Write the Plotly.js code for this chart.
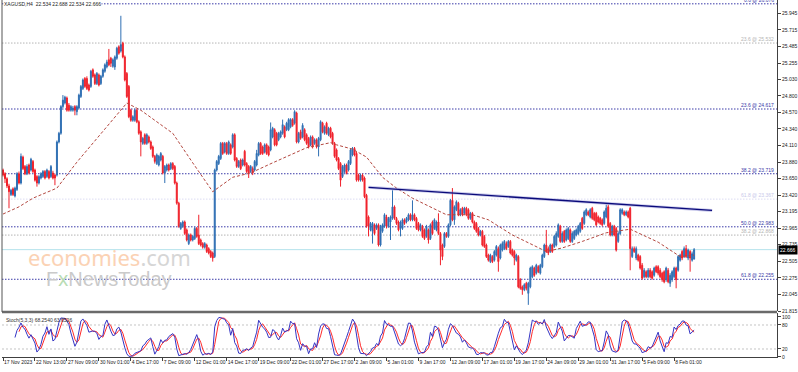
<!DOCTYPE html>
<html><head><meta charset="utf-8">
<script src="https://cdn.plot.ly/plotly-3.0.1.min.js"></script>
<style>html,body{margin:0;padding:0;background:#fff;}#chart{width:798px;height:372px;}</style>
</head><body><div id="chart"></div>
<script>
const symbolTitle = 'XAGUSD,H4  22.534 22.688 22.534 22.666';
const stochTitle = 'Stoch(5,3,3) 68.2540 63.6526';

const barOpen = [
23.77,23.72,23.65,23.55,23.43,23.51,23.41,23.50,23.72,23.59,
23.95,23.82,23.72,23.84,23.77,23.89,23.77,23.68,23.59,23.66,
23.68,23.75,23.68,23.75,23.68,23.73,23.70,23.70,24.16,24.28,
24.65,24.70,24.77,24.67,24.60,24.60,24.65,24.58,24.63,24.79,
24.90,25.04,25.04,24.95,24.93,25.16,25.09,24.97,25.09,24.97,
25.07,25.14,25.20,25.30,25.32,25.21,25.20,25.32,25.48,25.42,
25.53,25.34,25.11,24.93,24.60,24.46,24.46,24.60,24.44,24.30,
24.14,24.26,24.14,24.23,24.16,24.09,23.96,23.86,23.84,23.91,
23.96,23.73,23.77,23.84,23.79,23.86,23.82,23.59,23.31,22.96,
22.99,23.05,22.94,22.75,22.87,22.80,22.82,22.96,22.87,22.80,
22.75,22.70,22.73,22.68,22.64,22.62,22.57,23.77,23.86,23.93,
24.14,24.02,24.14,24.00,24.12,24.09,24.26,23.93,23.82,23.91,
23.84,24.03,23.86,23.82,23.75,23.79,23.77,23.84,23.98,24.14,
24.09,24.02,24.12,24.09,24.05,24.23,24.33,24.28,24.19,24.23,
24.28,24.37,24.33,24.33,24.37,24.47,24.42,24.56,24.16,24.30,
24.23,24.33,24.26,24.21,24.12,24.23,24.14,24.19,24.09,24.19,
24.42,24.28,24.42,24.26,24.35,24.28,24.14,24.05,23.93,23.86,
23.68,23.75,23.84,23.77,23.86,23.98,24.07,24.00,23.70,23.63,
23.70,23.66,23.42,23.12,22.94,22.92,23.01,22.96,23.01,22.73,
22.92,22.99,23.12,22.99,23.05,23.10,23.26,23.10,23.05,22.96,
22.96,23.08,23.05,23.08,23.15,23.08,23.15,23.10,23.03,22.94,
22.99,22.94,22.85,22.94,22.82,23.05,22.96,22.94,23.05,22.89,
22.73,22.71,22.89,22.85,23.01,23.35,23.08,23.22,23.31,23.15,
23.24,23.17,23.24,23.22,23.10,23.17,23.05,23.03,22.96,22.87,
22.92,22.85,22.73,22.59,22.50,22.57,22.52,22.59,22.68,22.55,
22.66,22.68,22.75,22.71,22.78,22.66,22.64,22.52,22.57,22.25,
22.15,22.11,22.20,22.06,22.15,22.29,22.41,22.34,22.43,22.34,
22.43,22.57,22.73,22.68,22.64,22.73,22.71,22.73,22.85,22.99,
22.78,22.92,22.80,22.82,22.94,22.78,22.82,22.87,22.89,22.92,
23.10,23.03,23.15,23.19,23.12,23.24,23.17,23.17,23.12,23.10,
23.08,23.03,23.12,23.26,23.03,22.87,22.99,22.96,22.78,22.89,
23.17,23.19,23.15,23.19,23.24,22.57,22.68,22.55,22.59,22.57,
22.45,22.29,22.36,22.29,22.38,22.36,22.31,22.43,22.43,22.38,
22.34,22.36,22.25,22.38,22.20,22.25,22.29,22.41,22.38,22.52,
22.64,22.57,22.68,22.55,22.64,22.52,22.534];

const barHigh = [
23.79,23.74,23.67,23.58,23.51,23.53,23.54,23.74,23.75,24.00,
23.97,23.84,23.85,23.86,23.94,23.91,23.79,23.70,23.70,23.74,
23.77,23.77,23.79,23.77,23.84,23.76,23.72,24.18,24.30,24.67,
24.81,24.80,24.79,24.70,24.67,24.66,24.67,24.67,24.83,24.95,
25.04,25.06,25.07,24.97,25.16,25.18,25.11,25.13,25.11,25.09,
25.18,25.25,25.30,25.45,25.34,25.32,25.36,25.48,25.50,25.91,
25.55,25.36,25.13,24.95,24.62,24.53,24.62,24.62,24.46,24.32,
24.23,24.28,24.28,24.25,24.18,24.11,23.98,24.00,23.98,24.02,
23.98,23.84,23.86,23.86,23.88,23.88,23.84,23.61,23.33,23.05,
23.07,23.07,22.96,22.89,22.89,22.87,22.98,22.98,23.15,22.82,
22.77,22.77,22.75,22.70,22.66,22.64,23.79,23.91,23.98,24.16,
24.16,24.16,24.16,24.18,24.14,24.28,24.28,23.95,23.91,23.93,
23.93,24.05,23.88,23.84,23.84,23.82,23.91,24.05,24.16,24.16,
24.11,24.14,24.14,24.11,24.43,24.37,24.35,24.30,24.30,24.32,
24.47,24.39,24.44,24.49,24.49,24.49,24.60,24.58,24.30,24.33,
24.42,24.35,24.28,24.23,24.25,24.25,24.21,24.21,24.23,24.46,
24.44,24.39,24.44,24.37,24.37,24.30,24.16,24.07,23.95,23.88,
23.84,23.86,23.86,23.91,24.07,24.09,24.09,24.02,23.72,23.72,
23.72,23.68,23.44,23.14,23.05,23.05,23.03,23.03,23.03,23.01,
23.03,23.17,23.15,23.12,23.14,23.49,23.28,23.12,23.07,23.07,
23.10,23.10,23.12,23.17,23.17,23.35,23.17,23.12,23.05,23.03,
23.01,22.96,23.01,22.96,23.03,23.07,23.10,23.07,23.17,22.91,
22.75,22.91,22.91,23.03,23.37,23.52,23.28,23.35,23.33,23.24,
23.26,23.26,23.26,23.24,23.19,23.19,23.07,23.05,22.98,22.94,
22.94,22.87,22.75,22.61,22.61,22.59,22.66,22.73,22.71,22.75,
22.78,22.80,22.78,22.80,22.80,22.68,22.66,22.61,22.59,22.27,
22.17,22.20,22.22,22.22,22.43,22.45,22.43,22.47,22.45,22.47,
22.61,22.75,22.94,22.71,22.75,22.75,22.87,22.92,23.03,23.01,
22.92,22.94,22.96,22.98,22.96,22.92,22.94,22.96,23.01,23.05,
23.12,23.21,23.24,23.21,23.24,23.26,23.19,23.19,23.14,23.12,
23.10,23.21,23.29,23.29,23.05,23.01,23.01,22.98,22.92,23.24,
23.24,23.21,23.21,23.21,23.26,22.71,22.71,22.71,22.61,22.59,
22.48,22.41,22.38,22.41,22.41,22.38,22.43,22.45,22.45,22.41,
22.36,22.38,22.43,22.41,22.34,22.38,22.43,22.43,22.59,22.61,
22.66,22.71,22.73,22.68,22.66,22.64,22.688];

const barLow = [
23.68,23.59,23.52,23.24,23.41,23.41,23.39,23.48,23.57,23.57,
23.77,23.70,23.70,23.71,23.75,23.73,23.61,23.54,23.57,23.64,
23.66,23.64,23.66,23.64,23.66,23.64,23.56,23.68,24.14,24.26,
24.63,24.68,24.58,24.58,24.58,24.58,24.53,24.53,24.61,24.77,
24.88,24.91,24.88,24.86,24.91,25.05,24.95,24.95,24.93,24.95,
25.05,25.12,25.18,25.21,25.20,25.19,25.16,25.30,25.37,25.40,
25.32,25.00,24.77,24.49,24.44,24.44,24.44,24.42,24.26,23.96,
24.12,24.12,24.12,24.14,24.05,23.94,23.86,23.84,23.82,23.89,
23.71,23.59,23.75,23.75,23.77,23.77,23.57,23.29,22.97,22.94,
22.97,22.87,22.78,22.73,22.78,22.78,22.80,22.83,22.73,22.71,
22.68,22.68,22.62,22.60,22.55,22.50,22.55,23.75,23.84,23.91,
23.98,24.00,23.98,23.98,23.98,24.07,23.89,23.80,23.80,23.77,
23.82,23.82,23.73,23.66,23.73,23.70,23.75,23.82,23.96,23.98,
23.98,24.00,23.98,23.96,24.03,24.21,24.10,24.10,24.17,24.21,
24.26,24.21,24.31,24.31,24.35,24.37,24.40,24.14,24.14,24.19,
24.21,24.17,24.12,24.07,24.10,24.07,24.12,24.07,23.96,24.17,
24.28,24.26,24.26,24.24,24.21,24.12,23.94,23.89,23.77,23.54,
23.66,23.73,23.71,23.75,23.84,23.96,23.96,23.61,23.61,23.61,
23.61,23.38,22.97,22.85,22.92,22.75,22.87,22.94,22.71,22.71,
22.90,22.97,22.96,22.97,22.80,23.08,23.08,23.01,22.92,22.85,
22.94,23.01,23.03,23.06,23.06,23.06,23.06,22.94,22.92,22.92,
22.83,22.80,22.83,22.75,22.80,22.87,22.94,22.92,22.87,22.45,
22.52,22.69,22.83,22.83,22.99,23.06,23.01,23.20,23.13,23.13,
23.13,23.15,23.13,23.08,23.08,23.03,22.94,22.90,22.85,22.85,
22.71,22.69,22.55,22.50,22.48,22.48,22.50,22.57,22.36,22.53,
22.64,22.66,22.66,22.69,22.60,22.57,22.45,22.50,22.13,22.11,
22.04,22.09,22.10,21.90,22.13,22.27,22.29,22.32,22.34,22.32,
22.41,22.55,22.62,22.59,22.62,22.62,22.69,22.71,22.83,22.76,
22.76,22.76,22.78,22.80,22.76,22.76,22.80,22.85,22.87,22.90,
22.94,23.01,23.13,23.13,23.10,23.08,23.06,22.99,23.03,23.01,
22.99,23.01,23.10,22.97,22.85,22.85,22.85,22.64,22.76,22.87,
23.15,23.13,23.13,23.10,22.38,22.55,22.62,22.52,22.50,22.39,
22.25,22.27,22.27,22.27,22.27,22.25,22.29,22.34,22.31,22.27,
22.22,22.20,22.22,22.20,22.15,22.22,22.27,22.13,22.36,22.50,
22.52,22.55,22.55,22.52,22.36,22.50,22.534];

const barClose = [
23.70,23.65,23.55,23.47,23.49,23.43,23.52,23.72,23.59,23.96,
23.79,23.72,23.82,23.73,23.92,23.75,23.63,23.59,23.68,23.72,
23.75,23.66,23.77,23.66,23.82,23.66,23.66,24.16,24.28,24.65,
24.74,24.78,24.60,24.60,24.65,24.63,24.60,24.65,24.81,24.93,
25.02,24.93,24.90,24.88,25.14,25.07,24.97,25.11,24.95,25.07,
25.16,25.23,25.27,25.23,25.25,25.30,25.34,25.46,25.39,25.51,
25.34,25.02,24.79,24.51,24.46,24.51,24.60,24.44,24.28,24.16,
24.21,24.14,24.26,24.16,24.07,23.96,23.89,23.98,23.96,24.00,
23.73,23.82,23.84,23.77,23.86,23.79,23.59,23.31,22.99,23.03,
23.05,22.89,22.80,22.87,22.80,22.85,22.96,22.85,22.75,22.73,
22.70,22.75,22.64,22.62,22.57,22.55,23.77,23.89,23.96,24.14,
24.00,24.14,24.00,24.16,24.00,24.26,23.91,23.82,23.89,23.79,
23.91,23.84,23.75,23.73,23.82,23.73,23.89,24.00,24.14,24.00,
24.00,24.12,24.00,23.98,24.33,24.35,24.12,24.12,24.28,24.30,
24.40,24.23,24.42,24.47,24.47,24.39,24.58,24.16,24.28,24.21,
24.39,24.19,24.14,24.09,24.23,24.09,24.19,24.09,24.21,24.44,
24.30,24.37,24.28,24.35,24.23,24.14,23.96,23.91,23.79,23.63,
23.82,23.84,23.73,23.89,24.05,24.07,23.98,23.63,23.63,23.70,
23.63,23.40,22.99,22.99,23.03,23.03,22.89,23.01,22.73,22.99,
23.01,23.15,22.99,23.10,23.12,23.26,23.10,23.03,22.94,23.05,
23.08,23.03,23.10,23.15,23.08,23.15,23.08,22.96,22.94,23.01,
22.85,22.82,22.99,22.80,23.01,22.89,23.08,23.05,22.89,22.66,
22.57,22.89,22.85,23.01,23.35,23.08,23.26,23.33,23.15,23.22,
23.15,23.24,23.15,23.10,23.17,23.05,22.96,22.92,22.87,22.92,
22.73,22.71,22.57,22.52,22.59,22.50,22.64,22.71,22.50,22.73,
22.75,22.78,22.68,22.78,22.62,22.59,22.55,22.59,22.15,22.13,
22.11,22.18,22.13,22.20,22.41,22.43,22.31,22.45,22.36,22.45,
22.59,22.73,22.64,22.62,22.73,22.64,22.85,22.89,23.01,22.78,
22.89,22.78,22.94,22.96,22.78,22.89,22.92,22.94,22.99,23.03,
22.96,23.19,23.22,23.15,23.22,23.10,23.08,23.01,23.05,23.03,
23.01,23.19,23.24,22.99,22.87,22.99,22.87,22.66,22.89,23.22,
23.22,23.15,23.19,23.12,22.68,22.68,22.64,22.68,22.52,22.41,
22.27,22.38,22.29,22.38,22.29,22.27,22.41,22.36,22.34,22.29,
22.25,22.22,22.41,22.22,22.31,22.36,22.41,22.25,22.57,22.59,
22.55,22.68,22.57,22.66,22.55,22.61,22.666];

// moving average (dashed) read at sample bars
const maIndex = [0,8,15,27,37,49,62,69,82,85,95,105,115,124,135,152,164,167,175,182,190,197,205,222,235,243,255,272,280,290,302,314,328,339,346];
const maValue = [23.16,23.26,23.38,23.52,23.88,24.28,24.70,24.60,24.35,24.28,23.87,23.47,23.67,23.73,23.87,24.08,24.15,24.12,24.06,23.95,23.67,23.52,23.38,23.15,23.15,23.08,22.87,22.64,22.69,22.78,22.90,22.95,22.77,22.57,22.59];

// trend line endpoints
const trendIndex = [183, 355];
const trendValue = [23.53, 23.21];

// fibonacci levels
const fibLevels = [26.076, 25.532, 24.617, 23.719, 23.367, 22.983, 22.868, 22.255];
const fibLabels = ['0.0 @ 26.076','23.6 @ 25.532','23.6 @ 24.617','38.2 @ 23.719','61.8 @ 23.367','50.0 @ 22.983','38.2 @ 22.868','61.8 @ 22.255'];
const fibColors = ['#3a3aa8','#b4b4b4','#3a3aa8','#3a3aa8','#dcdcf2','#3a3aa8','#b4b4b4','#3a3aa8'];

const lastPrice = 22.666;

const tickIndex = [0,16,32,48,64,80,96,112,128,144,160,176,192,208,224,240,256,272,288,304,320,336];
const tickLabels = ['17 Nov 2023','22 Nov 13:00','27 Nov 09:00','30 Nov 01:00','4 Dec 17:00','7 Dec 09:00','12 Dec 01:00','14 Dec 17:00','19 Dec 09:00','22 Dec 01:00','27 Dec 17:00','2 Jan 09:00','5 Jan 01:00','9 Jan 17:00','12 Jan 09:00','17 Jan 01:00','19 Jan 17:00','24 Jan 09:00','29 Jan 01:00','31 Jan 17:00','5 Feb 09:00','8 Feb 01:00'];

const priceTicks = [25.945,25.715,25.485,25.255,25.030,24.800,24.570,24.340,24.110,23.880,23.650,23.420,23.195,22.965,22.735,22.505,22.275,22.045,21.815];
const stochTicks = [0,20,80,100];
const stochLevels = [20,80];

// ---- build ----
const n = barClose.length;
const idx = barClose.map((_, i) => i);

// Stochastic(5,3,3) from the price arrays
const kPer = 5, slowing = 3, dPer = 3;
const num = [], den = [];
for (let i = 0; i < n; i++) {
  if (i < kPer - 1) { num.push(null); den.push(null); continue; }
  let hh = -Infinity, ll = Infinity;
  for (let j = i - kPer + 1; j <= i; j++) { hh = Math.max(hh, barHigh[j]); ll = Math.min(ll, barLow[j]); }
  num.push(barClose[i] - ll); den.push(hh - ll);
}
const stochMain = [];
for (let i = 0; i < n; i++) {
  if (i < kPer - 1 + slowing - 1) { stochMain.push(null); continue; }
  let sn = 0, sd = 0;
  for (let j = i - slowing + 1; j <= i; j++) { sn += num[j]; sd += den[j]; }
  stochMain.push(sd === 0 ? 100 : 100 * sn / sd);
}
const stochSignal = [];
for (let i = 0; i < n; i++) {
  if (i < kPer - 1 + slowing - 1 + dPer - 1) { stochSignal.push(null); continue; }
  let s = 0; for (let j = i - dPer + 1; j <= i; j++) s += stochMain[j];
  stochSignal.push(s / dPer);
}

const FONT = 'Liberation Sans, Arial, sans-serif';
const traces = [
  {type:'candlestick', x: idx, open: barOpen, high: barHigh, low: barLow, close: barClose,
   xaxis:'x', yaxis:'y', whiskerwidth:0,
   increasing:{line:{color:'#2f6fb3', width:1}, fillcolor:'#2f6fb3'},
   decreasing:{line:{color:'#f0202a', width:1}, fillcolor:'#f0202a'},
   hoverinfo:'skip'},
  {type:'scatter', mode:'lines', x: maIndex, y: maValue, xaxis:'x', yaxis:'y',
   line:{color:'#b3473f', width:1, dash:'3px,2px'}, hoverinfo:'skip'},
  {type:'scatter', mode:'lines', x: trendIndex, y: trendValue, xaxis:'x', yaxis:'y',
   line:{color:'rgba(150,150,215,0.5)', width:3}, hoverinfo:'skip'},
  {type:'scatter', mode:'lines', x: trendIndex, y: trendValue, xaxis:'x', yaxis:'y',
   line:{color:'#0a0a7a', width:1.3}, hoverinfo:'skip'},
  {type:'scatter', mode:'lines', x: idx, y: stochSignal, xaxis:'x2', yaxis:'y2',
   line:{color:'#ff2a2a', width:1}, hoverinfo:'skip'},
  {type:'scatter', mode:'lines', x: idx, y: stochMain, xaxis:'x2', yaxis:'y2',
   line:{color:'#3434c4', width:1}, hoverinfo:'skip'}
];

const shapes = [];
fibLevels.forEach((lv, k) => {
  shapes.push({type:'line', xref:'paper', yref:'y', x0:0, x1:1, y0:lv, y1:lv,
    line:{color: fibColors[k], width:1, dash:'1.5px,1.5px'}, layer:'below'});
});
shapes.push({type:'line', xref:'paper', yref:'y', x0:0, x1:1, y0:lastPrice, y1:lastPrice,
  line:{color:'#b4e2ec', width:1}, layer:'below'});
stochLevels.forEach(lv => {
  shapes.push({type:'line', xref:'paper', yref:'y2', x0:0, x1:1, y0:lv, y1:lv,
    line:{color:'#c4c4c4', width:1, dash:'2px,2px'}, layer:'below'});
});
shapes.push({type:'line', xref:'paper', yref:'paper', x0:0, x1:1, y0:0.1261, y1:0.1261,
  line:{color:'#6a6a6a', width:2.5}});
shapes.push({type:'line', xref:'paper', yref:'paper', x0:0, x1:0, y0:0.1261, y1:1,
  line:{color:'#555555', width:1}});

const annotations = [];
fibLevels.forEach((lv, k) => {
  annotations.push({xref:'paper', yref:'y', x:1, y:lv, xanchor:'right', yanchor:'bottom',
    text: fibLabels[k], showarrow:false, xshift:-1, yshift:-1,
    font:{family:FONT, size:5, color: fibColors[k] === '#dcdcf2' ? '#c8c8ea' : fibColors[k]}});
});
annotations.push({xref:'paper', yref:'paper', x:0, y:1, xanchor:'left', yanchor:'top',
  text: symbolTitle, showarrow:false, xshift:1, yshift:0, bgcolor:'#ffffff', borderpad:0,
  font:{family:FONT, size:5, color:'#222222'}});
annotations.push({xref:'paper', yref:'paper', x:0, y:0.1232, xanchor:'left', yanchor:'top',
  text: stochTitle, showarrow:false, xshift:2, yshift:-2,
  font:{family:FONT, size:5, color:'#333333'}});
annotations.push({xref:'paper', yref:'y', x:1, y:lastPrice, xanchor:'left', yanchor:'middle',
  text: lastPrice.toFixed(3), showarrow:false, xshift:1, bgcolor:'#000000', borderpad:1,
  font:{family:FONT, size:5, color:'#ffffff'}});
annotations.push({xref:'paper', yref:'paper', x:0.139, y:0.279, xanchor:'center', yanchor:'middle',
  text:'economies<span style="color:#d6d6d6">.com</span>', showarrow:false,
  font:{family:'Noto Sans, Liberation Sans, sans-serif', size:22, color:'#fbd2b4'}});
annotations.push({xref:'paper', yref:'paper', x:0.138, y:0.218, xanchor:'center', yanchor:'middle',
  text:'F<span style="color:#b9dcb4">x</span>NewsToday', showarrow:false,
  font:{family:'Liberation Sans, Arial, sans-serif', size:20, color:'#cacaca'}});

const axisCommon = {showgrid:false, zeroline:false, fixedrange:true};
const layout = {
  width:798, height:372, margin:{l:2, r:21, t:0, b:15},
  paper_bgcolor:'#ffffff', plot_bgcolor:'#ffffff', showlegend:false,
  xaxis: Object.assign({}, axisCommon, {domain:[0,1], anchor:'y', range:[-0.5,387.5],
    showticklabels:false, ticks:'', showline:false, rangeslider:{visible:false}}),
  xaxis2: Object.assign({}, axisCommon, {domain:[0,1], anchor:'y2', range:[-0.5,387.5],
    tickmode:'array', tickvals: tickIndex, ticktext: tickLabels, ticks:'outside', ticklen:3,
    tickangle:0, automargin:false,
    tickcolor:'#404040', ticklabelposition:'outside right', showline:true, linecolor:'#404040',
    linewidth:1, tickfont:{family:FONT, size:5, color:'#202020'}}),
  yaxis: Object.assign({}, axisCommon, {domain:[0.12885,1], anchor:'x', range:[21.815,26.129],
    side:'right', tickmode:'array', tickvals: priceTicks, ticktext: priceTicks.map(v => v.toFixed(3)),
    ticks:'outside', ticklen:3, tickcolor:'#404040', showline:true, linecolor:'#404040', linewidth:1,
    automargin:false, tickfont:{family:FONT, size:5, color:'#202020'}}),
  yaxis2: Object.assign({}, axisCommon, {domain:[0,0.12325], anchor:'x2', range:[0,110],
    side:'right', tickmode:'array', tickvals: stochTicks, ticktext: stochTicks.map(String),
    ticks:'outside', ticklen:3, tickcolor:'#404040', showline:true, linecolor:'#404040', linewidth:1,
    automargin:false, tickfont:{family:FONT, size:5, color:'#202020'}}),
  shapes: shapes,
  annotations: annotations
};

Plotly.newPlot('chart', traces, layout, {displayModeBar:false, staticPlot:true});
</script>
</body></html>
